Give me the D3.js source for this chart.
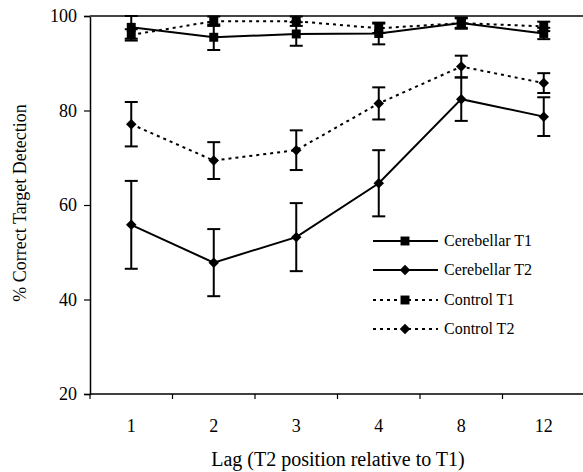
<!DOCTYPE html>
<html>
<head>
<meta charset="utf-8">
<script src="https://cdn.jsdelivr.net/npm/d3@7"></script>
<style>
  body { margin: 0; background: #fff; }
</style>
</head>
<body>
<svg width="583" height="472"></svg>
<script>
const lags = ["1", "2", "3", "4", "8", "12"];
const yTicks = [20, 40, 60, 80, 100];

// mean % correct and error half-widths
const cerebT1 = [97.6, 95.5, 96.2, 96.3, 98.5, 96.3];
const cerebT1Err = [2.4, 2.7, 2.5, 2.3, 1.2, 1.2];
const cerebT2 = [55.8, 47.8, 53.2, 64.6, 82.4, 78.7];
const cerebT2Err = [9.3, 7.1, 7.2, 7.0, 4.6, 4.1];
const controlT1 = [96.0, 98.9, 98.9, 97.4, 98.5, 97.8];
const controlT1Err = [1.2, 1.0, 1.0, 1.0, 1.0, 1.0];
const controlT2 = [77.1, 69.4, 71.6, 81.5, 89.3, 85.8];
const controlT2Err = [4.7, 3.9, 4.2, 3.4, 2.3, 2.1];

const series = [
    { name: "Cerebellar T1", values: cerebT1, err: cerebT1Err, dashed: false, shape: "square" },
    { name: "Cerebellar T2", values: cerebT2, err: cerebT2Err, dashed: false, shape: "diamond" },
    { name: "Control T1", values: controlT1, err: controlT1Err, dashed: true, shape: "square" },
    { name: "Control T2", values: controlT2, err: controlT2Err, dashed: true, shape: "diamond" }
];

const FONT = "'Times New Roman', Times, 'Liberation Serif', 'DejaVu Serif', serif";

const svg = d3.select("svg");
const plotLeft = 90, plotRight = 585, plotTop = 16, plotBottom = 394;

const x = d3.scaleBand().domain(lags).range([plotLeft, plotRight]).padding(0);
const y = d3.scaleLinear().domain([20, 100]).range([plotBottom, plotTop]);

const symSquare = d3.symbol().type(d3.symbolSquare).size(80);
const symDiamond = d3.symbol().type(d3.symbolDiamond2 || d3.symbolDiamond).size(70);

// axes
const yAxis = svg.append("g")
    .attr("transform", `translate(${plotLeft},0)`)
    .call(d3.axisLeft(y).tickValues(yTicks).tickSize(6).tickPadding(7));
yAxis.attr("font-family", FONT);
yAxis.select(".domain").attr("stroke", "#000").attr("stroke-width", 1.5);
yAxis.selectAll(".tick line").attr("stroke", "#000").attr("stroke-width", 1.2);
yAxis.selectAll(".tick text").style("font-size", "18px").style("font-family", FONT);

// top frame line at 100
svg.append("line")
    .attr("x1", plotLeft).attr("x2", 583)
    .attr("y1", y(100)).attr("y2", y(100))
    .attr("stroke", "#444").attr("stroke-width", 2);

const xAxis = svg.append("g")
    .attr("transform", `translate(0,${plotBottom})`)
    .call(d3.axisBottom(x).tickSize(0).tickPadding(25));
xAxis.attr("font-family", FONT);
xAxis.select(".domain").remove();
xAxis.selectAll(".tick text").style("font-size", "18px").style("font-family", FONT);

svg.append("line")
    .attr("x1", plotLeft).attr("x2", 583)
    .attr("y1", plotBottom).attr("y2", plotBottom)
    .attr("stroke", "#000").attr("stroke-width", 1.5);

// band boundary ticks
svg.selectAll(".xtick")
    .data(lags)
    .enter()
    .append("line")
    .attr("class", "xtick")
    .attr("x1", d => x(d)).attr("x2", d => x(d))
    .attr("y1", plotBottom).attr("y2", plotBottom + 5)
    .attr("stroke", "#000").attr("stroke-width", 1.2);

// axis titles
svg.append("text")
    .attr("x", 338)
    .attr("y", 466)
    .attr("text-anchor", "middle")
    .style("font-family", FONT)
    .style("font-size", "20px")
    .text("Lag (T2 position relative to T1)");

svg.append("text")
    .attr("transform", `translate(26,203) rotate(-90)`)
    .attr("text-anchor", "middle")
    .style("font-family", FONT)
    .style("font-size", "18px")
    .text("% Correct Target Detection");

const cx = i => x(lags[i]) + x.bandwidth() / 2;

// error bars
series.forEach(s => {
    const g = svg.append("g");
    s.values.forEach((v, i) => {
        const lo = y(v - s.err[i]), hi = y(v + s.err[i]);
        g.append("line").attr("x1", cx(i)).attr("x2", cx(i)).attr("y1", lo).attr("y2", hi)
            .attr("stroke", "#000").attr("stroke-width", 2);
        [lo, hi].forEach(yy => {
            g.append("line").attr("x1", cx(i) - 6.5).attr("x2", cx(i) + 6.5)
                .attr("y1", yy).attr("y2", yy)
                .attr("stroke", "#000").attr("stroke-width", 2);
        });
    });
});

// lines
const line = d3.line().x((d, i) => cx(i)).y(d => y(d));
series.forEach(s => {
    svg.append("path")
        .datum(s.values)
        .attr("d", line)
        .attr("fill", "none")
        .attr("stroke", "#000")
        .attr("stroke-width", 2)
        .attr("stroke-dasharray", s.dashed ? "3,4" : null);
});

// markers
series.forEach(s => {
    svg.selectAll(null)
        .data(s.values)
        .enter()
        .append("path")
        .attr("d", s.shape === "square" ? symSquare : symDiamond)
        .attr("transform", (d, i) => `translate(${cx(i)},${y(d)})`)
        .attr("fill", "#000");
});

// legend
const legendY = [241, 270, 300, 329];
const legend = svg.append("g");
series.forEach((s, i) => {
    const ly = legendY[i];
    legend.append("line")
        .attr("x1", 373).attr("x2", 438)
        .attr("y1", ly).attr("y2", ly)
        .attr("stroke", "#000").attr("stroke-width", 2)
        .attr("stroke-dasharray", s.dashed ? "3,4" : null);
    legend.append("path")
        .attr("d", s.shape === "square" ? symSquare : symDiamond)
        .attr("transform", `translate(405,${ly})`)
        .attr("fill", "#000");
    legend.append("text")
        .attr("x", 444).attr("y", ly + 5)
        .style("font-family", FONT)
        .style("font-size", "16px")
        .text(s.name);
});
</script>
</body>
</html>
